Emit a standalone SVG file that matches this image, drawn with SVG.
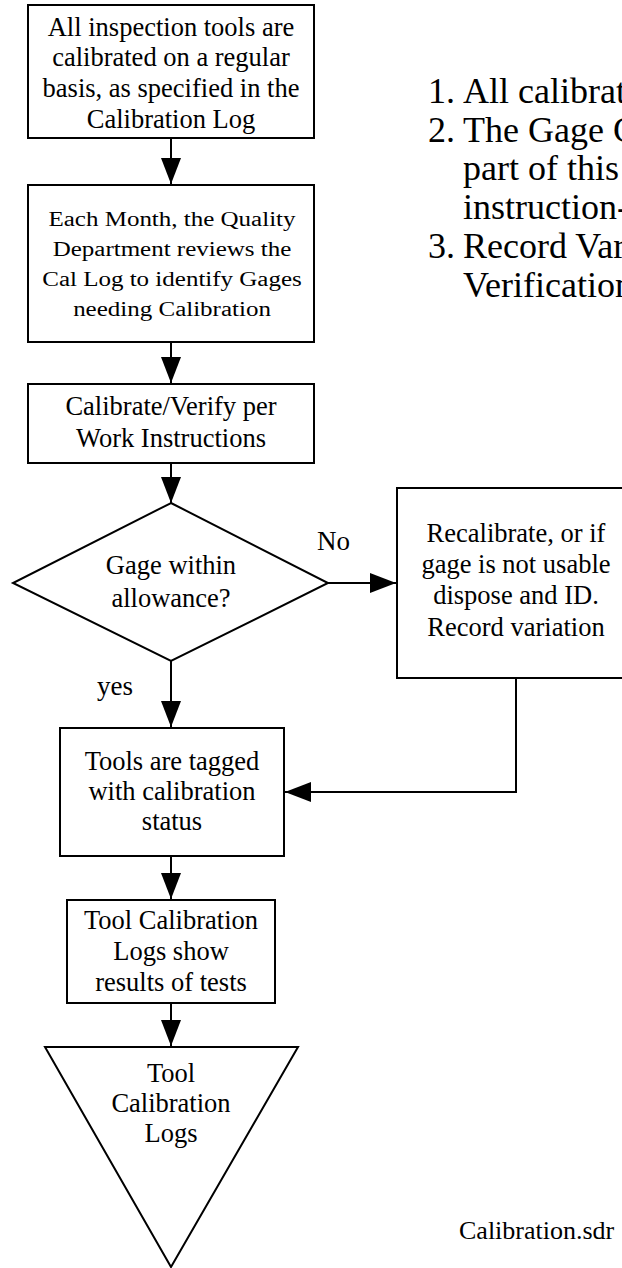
<svg xmlns="http://www.w3.org/2000/svg" width="622" height="1268" viewBox="0 0 622 1268">
<style>
.shape{fill:#fff;stroke:#000;stroke-width:2}
.t{font-family:"Liberation Serif","Times New Roman",serif;font-size:26.5px;fill:#000;text-anchor:middle}
.s{font-family:"Liberation Serif","Times New Roman",serif;font-size:20px;fill:#000;text-anchor:middle}
.l{font-family:"Liberation Serif","Times New Roman",serif;font-size:36px;fill:#000}
.lbl{font-family:"Liberation Serif","Times New Roman",serif;font-size:27px;fill:#000}
.c{fill:none;stroke:#000;stroke-width:2}
</style>
<defs>
<marker id="ah" markerUnits="userSpaceOnUse" markerWidth="26" markerHeight="20" refX="26" refY="10" orient="auto">
<path d="M0,0 L26,10 L0,20 z" fill="#000"/>
</marker>
</defs>
<rect width="622" height="1268" fill="#fff"/>
<g id="connectors">
<line class="c" x1="171" y1="138" x2="171" y2="184" marker-end="url(#ah)"/>
<line class="c" x1="171" y1="342" x2="171" y2="383" marker-end="url(#ah)"/>
<line class="c" x1="171" y1="463" x2="171" y2="503" marker-end="url(#ah)"/>
<line class="c" x1="328" y1="583" x2="396" y2="583" marker-end="url(#ah)"/>
<line class="c" x1="171" y1="661" x2="171" y2="727" marker-end="url(#ah)"/>
<polyline class="c" points="516,678 516,792 285,792" marker-end="url(#ah)"/>
<line class="c" x1="171" y1="856" x2="171" y2="899" marker-end="url(#ah)"/>
<line class="c" x1="171" y1="1003" x2="171" y2="1046" marker-end="url(#ah)"/>
<text class="lbl" x="317" y="550">No</text>
<text class="lbl" x="97" y="695">yes</text>
</g>
<g id="n1">
<rect class="shape" x="28" y="5" width="286" height="133"/>
<text class="t" x="171" y="36">All inspection tools are</text>
<text class="t" x="171" y="66">calibrated on a regular</text>
<text class="t" x="171" y="97">basis, as specified in the</text>
<text class="t" x="171" y="128">Calibration Log</text>
</g>
<g id="n2">
<rect class="shape" x="28" y="185" width="286" height="157"/>
<g transform="translate(172,0) scale(1.25,1)">
<text class="s" x="0" y="226">Each Month, the Quality</text>
<text class="s" x="0" y="256">Department reviews the</text>
<text class="s" x="0" y="286">Cal Log to identify Gages</text>
<text class="s" x="0" y="316">needing Calibration</text>
</g>
</g>
<g id="n3">
<rect class="shape" x="28" y="384" width="286" height="79"/>
<text class="t" x="171" y="415">Calibrate/Verify per</text>
<text class="t" x="171" y="447">Work Instructions</text>
</g>
<g id="n4">
<polygon class="shape" points="171,503 328,583 171,661 13,583"/>
<text class="t" x="171" y="574">Gage within</text>
<text class="t" x="171" y="607">allowance?</text>
</g>
<g id="n5">
<rect class="shape" x="397" y="488" width="240" height="190"/>
<text class="t" x="516" y="542">Recalibrate, or if</text>
<text class="t" x="516" y="573">gage is not usable</text>
<text class="t" x="516" y="604">dispose and ID.</text>
<text class="t" x="516" y="636">Record variation</text>
</g>
<g id="n6">
<rect class="shape" x="60" y="728" width="224" height="128"/>
<text class="t" x="172" y="770">Tools are tagged</text>
<text class="t" x="172" y="800">with calibration</text>
<text class="t" x="172" y="830">status</text>
</g>
<g id="n7">
<rect class="shape" x="67" y="900" width="208" height="103"/>
<text class="t" x="171" y="929">Tool Calibration</text>
<text class="t" x="171" y="960">Logs show</text>
<text class="t" x="171" y="991">results of tests</text>
</g>
<g id="n8">
<polygon class="shape" points="45,1047 298,1047 171,1267"/>
<text class="t" x="171" y="1082">Tool</text>
<text class="t" x="171" y="1112">Calibration</text>
<text class="t" x="171" y="1142">Logs</text>
</g>
<g id="notes">
<text class="l" x="428" y="103">1.</text><text class="l" x="463" y="103">All calibrat</text>
<text class="l" x="428" y="142">2.</text><text class="l" x="463" y="142">The Gage C</text>
<text class="l" x="463" y="180">part of this</text>
<text class="l" x="463" y="219">instruction-</text>
<text class="l" x="428" y="258">3.</text><text class="l" x="463" y="258">Record Var</text>
<text class="l" x="463" y="297">Verification</text>
<text class="lbl" x="459" y="1239" style="font-size:26px">Calibration.sdr</text>
</g>
</svg>
